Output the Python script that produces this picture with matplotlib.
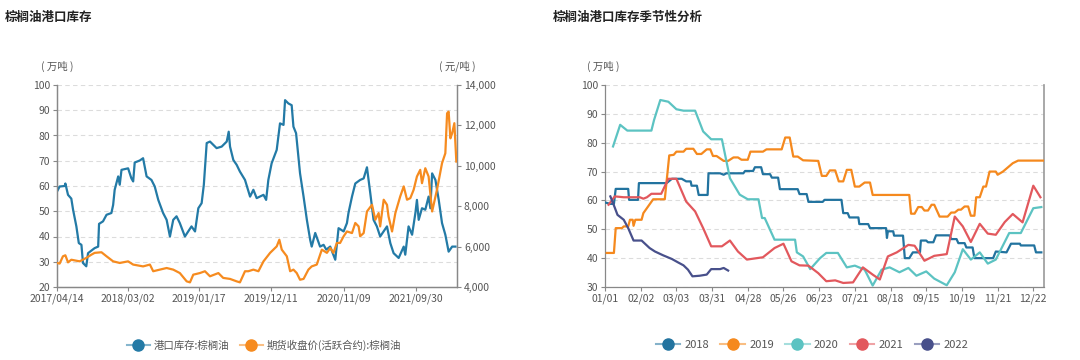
import matplotlib
matplotlib.use("Agg")
import matplotlib.pyplot as plt
from matplotlib.lines import Line2D
from matplotlib.colors import to_rgba
from matplotlib.ticker import FuncFormatter
import pandas as pd

plt.rcParams['font.family'] = ['Noto Sans CJK SC', 'DejaVu Sans']

# ---- left chart: port stock vs futures price ----
START = "2017-04-14"
END_DAYS = 1817
date_ticks = ["2017/04/14", "2018/03/02", "2019/01/17", "2019/12/11", "2020/11/09", "2021/09/30"]

stock_days = [0, 12, 35, 38, 50, 65, 73, 88, 99, 111, 118, 133, 141, 171, 187, 191, 209, 225, 247, 255,
              262, 278, 285, 293, 323, 338, 346, 353, 376, 391, 407, 429, 444, 460, 482, 498, 513, 528, 543, 558,
              581, 596, 611, 627, 642, 657, 667, 680, 695, 725, 748, 771, 780, 786, 801, 816, 831, 854, 877, 892,
              907, 938, 950, 960, 975, 998, 1013, 1029, 1036, 1051, 1066, 1074, 1086, 1104, 1120, 1135, 1150, 1157,
              1173, 1195, 1211, 1223, 1241, 1264, 1279, 1302, 1317, 1324, 1340, 1355, 1377, 1393, 1408, 1423, 1438,
              1453, 1468, 1499, 1514, 1529, 1552, 1575, 1582, 1597, 1613, 1628, 1635, 1643, 1658, 1673, 1688, 1696,
              1704, 1719, 1734, 1749, 1764, 1779, 1795, 1810]
stock_vals = [57.8, 59.8, 60.0, 61.0, 56.5, 55.0, 50.6, 44.0, 37.4, 36.7, 29.5, 28.2, 33.4, 35.4, 36.0, 45.0, 46.0, 48.6, 49.3, 52.5,
              58.5, 63.8, 60.5, 66.4, 67.0, 63.0, 61.8, 69.3, 70.1, 71.0, 63.8, 62.4, 59.8, 54.5, 49.3, 46.6, 40.0, 46.6, 48.0, 45.3,
              40.0, 42.0, 44.0, 42.0, 51.2, 53.2, 60.5, 77.0, 77.6, 75.0, 75.6, 77.6, 81.5, 75.6, 70.3, 68.4, 65.7, 62.4, 55.8, 58.5,
              55.2, 56.5, 54.5, 62.4, 69.0, 74.3, 84.8, 84.2, 94.0, 92.7, 92.0, 83.5, 80.9, 65.0, 55.8, 46.6, 38.7, 36.0,
              41.4, 36.0, 36.7, 34.8, 36.0, 30.8, 43.3, 42.0, 45.3, 49.3, 55.8, 61.0, 62.4, 63.0, 67.4, 57.2, 46.6,
              44.0, 40.0, 44.0, 37.4, 33.4, 31.5, 36.0, 32.8, 44.0, 40.7, 49.3, 54.5, 46.6, 51.2, 50.6, 55.8, 51.2,
              65.0, 62.4, 54.5, 45.3, 40.7, 34.0, 36.0, 36.0]

price_days = [0, 12, 27, 38, 50, 65, 103, 133, 156, 171, 202, 225, 255, 285, 323, 346, 391, 422, 437, 467,
              498, 528, 558, 589, 604, 619, 649, 672, 695, 733, 755, 786, 816, 831, 854, 869, 892, 915, 938, 968,
              998, 1010, 1021, 1044, 1059, 1074, 1089, 1104, 1120, 1142, 1157, 1180, 1203, 1226, 1241, 1256, 1271,
              1286, 1302, 1317, 1340, 1355, 1370, 1377, 1393, 1408, 1431, 1446, 1461, 1468, 1484, 1499, 1506, 1522,
              1537, 1559, 1575, 1590, 1605, 1620, 1635, 1650, 1658, 1673, 1688, 1704, 1726, 1749, 1764, 1772, 1779,
              1787, 1795, 1805, 1814]
price_vals = [5190, 5160, 5520, 5570, 5220, 5350, 5270, 5440, 5600, 5690, 5720, 5520, 5270, 5190, 5270, 5110, 5020, 5110, 4780, 4860,
              4940, 4860, 4690, 4280, 4230, 4610, 4690, 4780, 4530, 4690, 4450, 4400, 4280, 4230, 4780, 4780, 4860, 4780, 5270, 5690,
              6010, 6340, 5850, 5520, 4780, 4860, 4690, 4360, 4400, 4860, 5020, 5110, 5850, 5690, 5930, 5690, 6180,
              6180, 6510, 6750, 6670, 7170, 7000, 6510, 6670, 7740, 8070, 7330, 7660, 7000, 8320, 8070, 7490, 6750,
              7660, 8480, 8980, 8320, 8400, 8810, 9470, 9800, 9140, 9880, 9470, 7740, 8810, 10130, 10620, 12600, 12680,
              11360, 11610, 12110, 10210]

# ---- right chart: seasonal, x in weeks from 01/01 ----
week_ticks = ["01/01", "02/02", "03/03", "03/31", "04/28", "05/26", "06/23", "07/21", "08/18", "09/15", "10/19", "11/21", "12/22"]

w18 = [0, 0.6, 1.0, 1.2, 2.6, 2.7, 3.7, 3.8, 6.9, 7.5, 8.6, 9.1, 9.6, 9.7, 10.3, 10.5, 11.5, 11.6, 12.9, 13.3,
       13.6, 15.5, 15.7, 16.6, 16.8, 17.5, 17.7, 18.5, 18.7, 19.4, 19.6, 21.6, 21.8, 22.6, 22.8, 24.4, 24.6, 26.5, 26.7, 27.2,
       27.4, 28.4, 28.5, 29.5, 29.7, 31.5, 31.6, 31.7, 32.3, 32.4, 33.4, 33.6, 34.1, 34.5, 35.3, 35.4, 36.0, 36.2, 36.8, 37.1,
       38.6, 38.8, 39.4, 39.6, 40.3, 40.5, 41.2, 41.4, 43.5, 43.8, 45.0, 45.5, 46.5, 46.6, 48.1, 48.3, 48.9]
v18 = [59.3, 58.8, 58.8, 64.0, 64.0, 60.2, 60.2, 66.0, 66.0, 67.5, 67.5, 66.6, 66.6, 65.1, 65.1, 61.9, 61.9, 69.4, 69.4, 68.9,
       69.4, 69.4, 70.2, 70.2, 71.5, 71.5, 69.1, 69.1, 67.9, 67.9, 63.9, 63.9, 62.2, 62.2, 59.5, 59.5, 60.2, 60.2, 55.6, 55.6,
       54.1, 54.1, 51.8, 51.8, 50.4, 50.4, 47.0, 49.3, 49.3, 47.8, 47.8, 40.0, 40.0, 42.0, 42.0, 46.1, 46.1, 45.5, 45.5, 47.9,
       47.9, 46.6, 46.6, 45.2, 45.2, 43.7, 43.7, 40.0, 40.0, 42.3, 42.0, 45.0, 45.0, 44.4, 44.4, 42.0, 42.0]

w19 = [0.2, 1.0, 1.2, 1.9, 2.1, 2.6, 2.8, 3.1, 3.2, 3.4, 3.7, 4.1, 4.3, 5.4, 6.7, 7.2, 7.7, 8.0, 8.8, 9.1,
       9.9, 10.3, 10.8, 11.4, 11.8, 12.1, 12.5, 13.3, 13.8, 14.4, 14.9, 15.3, 16.0, 16.3, 17.7, 18.1, 19.8, 20.2, 20.7, 21.1,
       21.6, 22.2, 23.9, 24.3, 24.8, 25.2, 25.8, 26.2, 26.7, 27.1, 27.6, 28.0, 28.5, 29.1, 29.7, 30.0, 34.1, 34.3, 34.7, 35.1,
       35.5, 35.8, 36.2, 36.6, 36.9, 37.5, 38.4, 38.8, 39.2, 39.6, 39.9, 40.3, 40.7, 41.0, 41.4, 41.6, 42.0, 42.4, 42.7, 43.1,
       43.8, 44.0, 44.6, 45.7, 46.3, 49.1]
v19 = [41.8, 41.8, 50.4, 50.4, 51.0, 51.0, 53.3, 53.3, 51.2, 53.3, 53.3, 53.3, 55.6, 60.4, 60.4, 75.6, 75.8, 76.9, 76.9, 77.9,
       77.9, 76.1, 76.1, 77.7, 77.7, 75.4, 75.4, 73.7, 73.7, 74.9, 74.9, 74.1, 74.1, 76.9, 76.9, 77.7, 77.7, 81.8, 81.8, 75.2,
       75.2, 73.9, 73.7, 68.5, 68.5, 70.4, 70.4, 66.6, 66.6, 70.6, 70.6, 64.8, 64.8, 66.2, 66.2, 61.9, 61.9, 55.4, 55.4, 57.7,
       57.7, 56.5, 56.5, 58.5, 58.5, 54.4, 54.4, 55.8, 55.8, 56.8, 56.8, 57.9, 57.9, 54.7, 54.7, 61.1, 61.1, 64.8, 64.8, 70.0,
       70.0, 68.9, 70.0, 72.9, 73.8, 73.8]

w20 = [0.9, 1.7, 2.5, 5.2, 5.5, 6.2, 7.1, 8.0, 8.8, 10.1, 11.0, 11.9, 13.1, 14.0, 15.1, 16.0, 17.2, 17.6, 17.9, 19.0,
       21.3, 21.5, 22.2, 23.0, 24.1, 24.8, 26.1, 27.1, 28.0, 29.1, 30.0, 31.0, 31.9, 33.0, 34.0, 34.9, 36.0, 36.9, 38.3, 39.2,
       40.1, 41.0, 42.0, 42.9, 43.8, 45.3, 46.6, 48.0, 48.9]
v20 = [78.7, 86.2, 84.2, 84.2, 87.9, 94.8, 94.2, 91.6, 91.1, 91.1, 83.9, 81.2, 81.2, 67.7, 62.0, 60.4, 60.4, 53.9, 53.9, 46.4,
       46.4, 42.0, 40.6, 36.2, 40.0, 41.8, 41.8, 36.8, 37.4, 36.0, 30.5, 36.0, 36.8, 35.1, 36.6, 33.9, 35.4, 32.9, 30.6, 35.1,
       43.1, 39.5, 42.0, 38.1, 39.5, 48.7, 48.7, 57.3, 57.7]

w21 = [0.4, 1.1, 2.1, 3.9, 4.3, 4.7, 5.2, 6.3, 7.1, 8.0, 9.1, 10.1, 11.0, 11.9, 13.1, 14.0, 14.9, 15.9, 17.7, 19.0,
       20.0, 20.9, 21.8, 22.8, 23.9, 24.8, 25.8, 26.7, 27.8, 28.9, 30.0, 30.8, 31.7, 32.7, 34.0, 34.7, 35.8, 36.9, 38.3, 39.2,
       40.1, 41.0, 42.0, 42.9, 43.8, 44.8, 45.7, 46.8, 48.0, 48.8]
v21 = [58.5, 61.4, 61.1, 61.1, 60.6, 61.1, 62.3, 62.3, 67.5, 67.5, 59.6, 56.2, 50.4, 44.1, 44.1, 46.1, 42.3, 39.5, 40.3, 43.5,
       45.0, 38.9, 37.5, 37.4, 34.8, 32.0, 32.3, 31.4, 31.6, 36.8, 34.3, 32.6, 40.6, 42.0, 44.6, 44.3, 39.1, 40.8, 41.4, 54.4,
       51.0, 45.6, 51.9, 48.5, 48.1, 52.5, 55.3, 52.4, 65.1, 61.1]

w22 = [0.6, 0.9, 1.4, 2.1, 2.6, 3.2, 4.1, 5.0, 5.6, 6.5, 7.5, 8.2, 8.8, 9.3, 9.8, 10.6, 11.4, 11.9, 12.9, 13.3, 13.8]
v22 = [61.4, 59.1, 55.0, 53.3, 50.4, 46.1, 46.1, 43.5, 42.3, 41.0, 39.7, 38.5, 37.5, 36.0, 33.7, 33.9, 34.3, 36.2, 36.2, 36.6, 35.7]

years = ["2018", "2019", "2020", "2021", "2022"]
season_x = [w18, w19, w20, w21, w22]
season_y = [v18, v19, v20, v21, v22]
season_colors = ["#22739f", "#f5891e", "#5cc3c2", "#e2585d", "#48508b"]

BLUE = "#237aa6"
ORANGE = "#f68b1f"
GRID = "#dcdcdc"
TXT = "#555555"
AXC = "#888888"

fig = plt.figure(figsize=(10.8, 3.6), dpi=100)


def style(ax, right_spine=True):
    ax.spines['top'].set_visible(False)
    ax.spines['right'].set_visible(right_spine)
    for s in ['left', 'bottom', 'right']:
        ax.spines[s].set_color(AXC)
        ax.spines[s].set_linewidth(0.9)
    ax.tick_params(colors=TXT, labelsize=7.5, length=3, width=0.8, color=AXC, pad=2)
    ax.grid(axis='y', color=GRID, linestyle=(0, (4, 3)), linewidth=0.8)
    ax.set_axisbelow(True)


# left chart
ax1 = fig.add_axes([57 / 1080, 1 - 287 / 360, 400 / 1080, 202 / 360])
style(ax1)
start = pd.Timestamp(START)
xs = start + pd.to_timedelta(stock_days, unit="D")
xp = start + pd.to_timedelta(price_days, unit="D")
ax1.plot(xs, stock_vals, color=BLUE, lw=1.6, zorder=3)
ax1.set_ylim(20, 100)
ax1.set_yticks(range(20, 101, 10))
ax1.set_xlim(start, start + pd.Timedelta(days=END_DAYS))
ax1.set_xticks(pd.to_datetime(date_ticks, format="%Y/%m/%d"))
ax1.set_xticklabels(date_ticks)

ax2 = ax1.twinx()
ax2.spines['top'].set_visible(False)
for s in ['left', 'bottom', 'right']:
    ax2.spines[s].set_color(AXC)
    ax2.spines[s].set_linewidth(0.9)
ax2.tick_params(colors=TXT, labelsize=7.5, length=3, width=0.8, color=AXC, pad=2)
ax2.plot(xp, price_vals, color=ORANGE, lw=1.6, zorder=3)
ax2.set_ylim(4000, 14000)
ax2.set_yticks(range(4000, 14001, 2000))
ax2.yaxis.set_major_formatter(FuncFormatter(lambda v, p: f"{int(v):,}"))

fig.text(5 / 1080, 1 - 17 / 360, "棕榈油港口库存", fontsize=9, fontweight='bold', color="#222222", va='center')
fig.text(57 / 1080, 1 - 66 / 360, "( 万吨 )", fontsize=7.5, color=TXT, ha='center', va='center')
fig.text(457 / 1080, 1 - 66 / 360, "( 元/吨 )", fontsize=7.5, color=TXT, ha='center', va='center')


def handle(c, label):
    return Line2D([], [], color=to_rgba(c, 0.55), lw=1.5, marker='o', markersize=8,
                  markerfacecolor=c, markeredgecolor=c, label=label)


h_left = [handle(BLUE, "港口库存:棕榈油"), handle(ORANGE, "期货收盘价(活跃合约):棕榈油")]
fig.legend(handles=h_left, loc='center', bbox_to_anchor=(264 / 1080, 1 - 345 / 360), ncol=2,
           frameon=False, fontsize=7.5, handlelength=2.2, columnspacing=1.0, handletextpad=0.4,
           labelcolor=TXT)

# right chart
ax3 = fig.add_axes([605 / 1080, 1 - 287 / 360, 439 / 1080, 202 / 360])
style(ax3)
ax3.spines['right'].set_color("#999999")
ax3.spines['right'].set_linewidth(1.2)
for x, y, c in zip(season_x, season_y, season_colors):
    ax3.plot(x, y, color=c, lw=1.6, zorder=3)
ax3.set_ylim(30, 100)
ax3.set_yticks(range(30, 101, 10))
ax3.set_xlim(0, 49.2)
ax3.set_xticks([4 * i for i in range(len(week_ticks))])
ax3.set_xticklabels(week_ticks)
ax3.tick_params(axis='y', right=False)

fig.text(553 / 1080, 1 - 17 / 360, "棕榈油港口库存季节性分析", fontsize=9, fontweight='bold', color="#222222", va='center')
fig.text(603 / 1080, 1 - 66 / 360, "( 万吨 )", fontsize=7.5, color=TXT, ha='center', va='center')

h_right = [handle(c, y) for c, y in zip(season_colors, years)]
fig.legend(handles=h_right, loc='center', bbox_to_anchor=(812 / 1080, 1 - 345 / 360), ncol=5,
           frameon=False, fontsize=8, handlelength=2.2, columnspacing=1.0, handletextpad=0.4,
           labelcolor=TXT)

fig.savefig("out.png", dpi=100, facecolor="white")
